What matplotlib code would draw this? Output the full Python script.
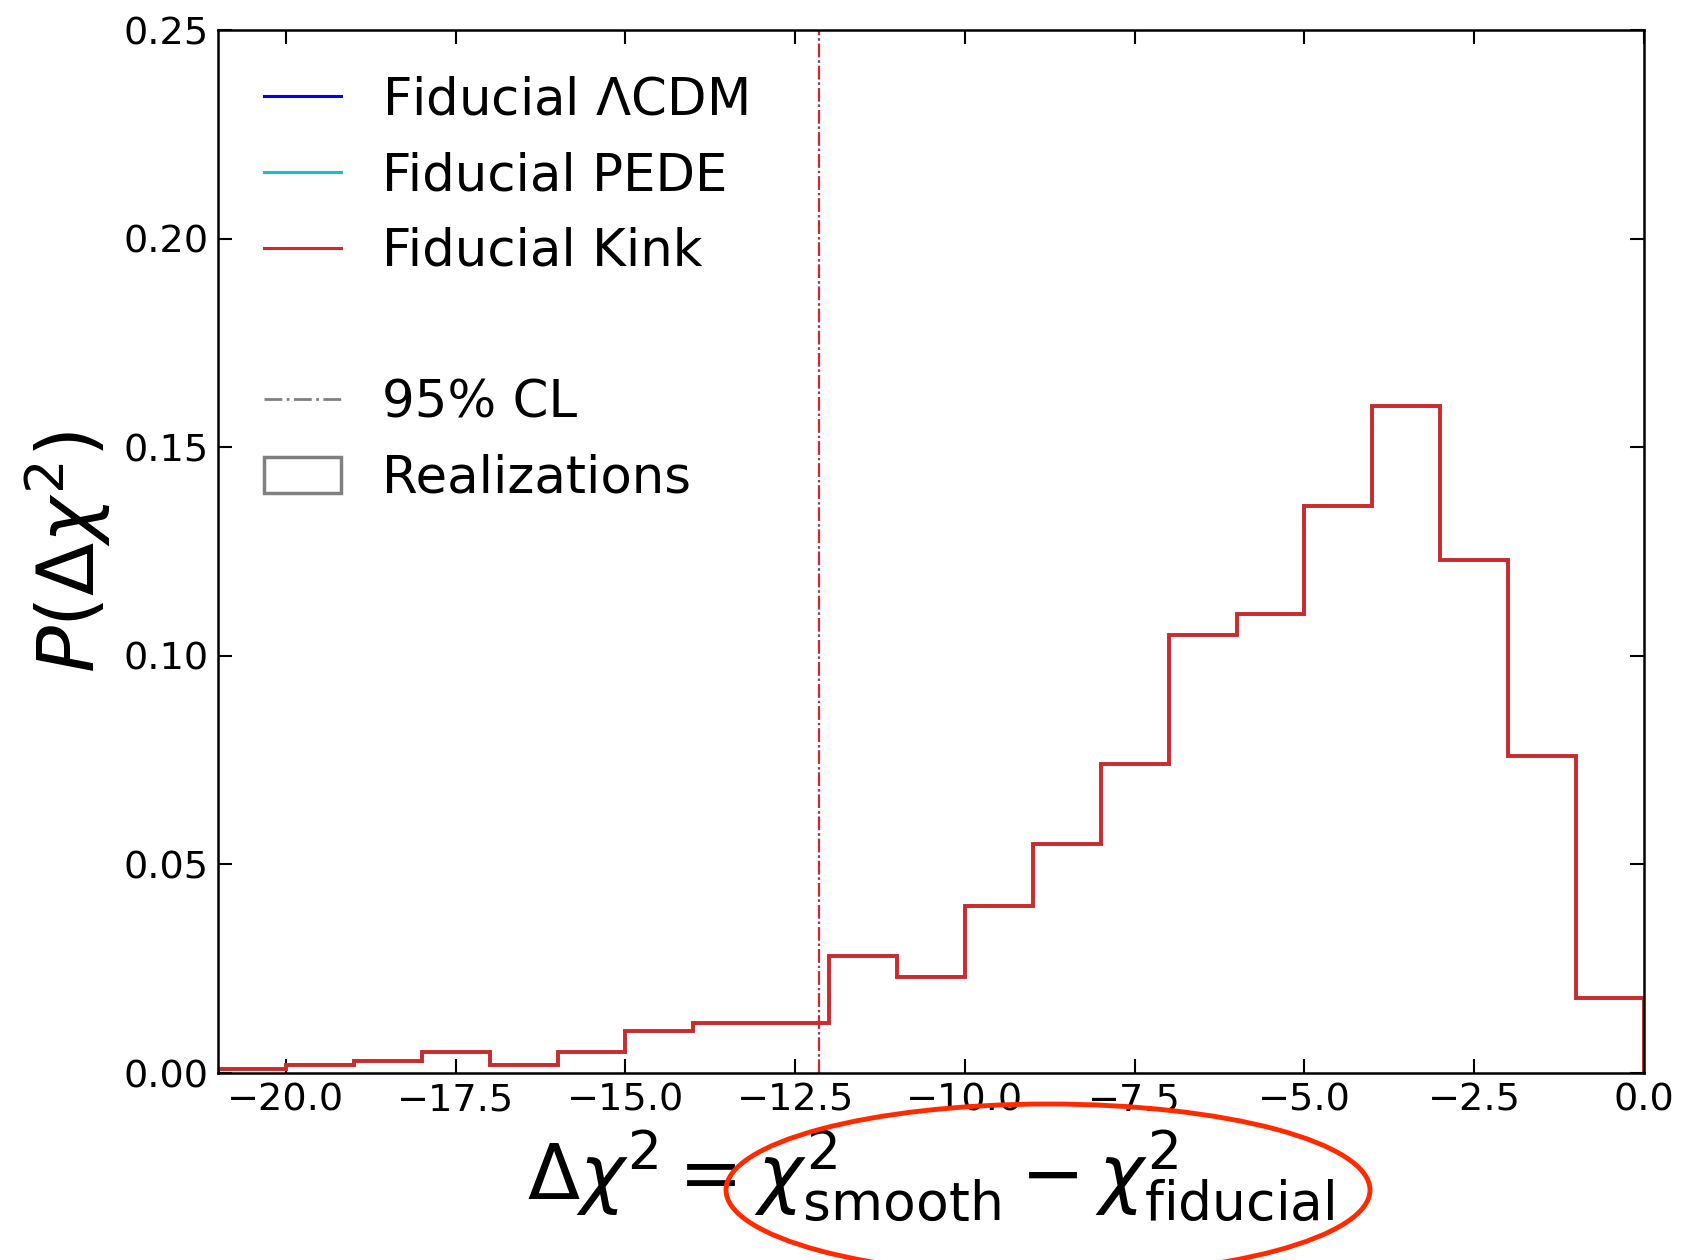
import matplotlib.pyplot as plt
import numpy as np
from matplotlib.lines import Line2D
from matplotlib.patches import Patch, Ellipse

# bin edges and probability per bin
edges = np.arange(-21, 1, 1)
prob = [0.001, 0.002, 0.003, 0.005, 0.002, 0.005, 0.010, 0.012, 0.012, 0.028,
        0.023, 0.040, 0.055, 0.074, 0.105, 0.110, 0.136, 0.160, 0.123, 0.076,
        0.018]
cl95 = -12.15
models = ['Fiducial $\\Lambda$CDM', 'Fiducial PEDE', 'Fiducial Kink']
colors = ['blue', 'tab:cyan', 'tab:red']

plt.rcParams['font.family'] = 'DejaVu Sans'
plt.rcParams['mathtext.fontset'] = 'dejavusans'

fig = plt.figure(figsize=(16.82, 12.6), dpi=100)
ax = fig.add_axes([0.1296, 0.1484, 0.8478, 0.8276])

centers = edges[:-1] + 0.5
for c in colors:
    ax.hist(centers, bins=edges, weights=prob, histtype='step', color=c, lw=2.7)
    ax.axvline(cl95, color=c, ls='-.', lw=1.5)

ax.set_xlim(-21, 0)
ax.set_ylim(0, 0.25)
ax.set_xticks(np.arange(-20, 0.1, 2.5))
ax.set_yticks(np.arange(0, 0.26, 0.05))
ax.tick_params(direction='in', top=True, right=True, length=10, width=1.5,
               labelsize=27.5, pad=7)
for s in ax.spines.values():
    s.set_linewidth(1.8)

ax.set_ylabel(r'$P(\Delta\chi^2)$', fontsize=56, labelpad=7.5)
ax.set_xlabel(r'$\Delta\chi^2 = \chi^2_{\rm smooth} - \chi^2_{\rm fiducial}$',
              fontsize=55, labelpad=7)

handles = [Line2D([], [], color=c, lw=2.2) for c in colors]
handles.append(Line2D([], [], color='none'))
handles.append(Line2D([], [], color='grey', ls='-.', lw=2))
handles.append(Patch(facecolor='white', edgecolor='grey', lw=2.5))
labels = models + [' ', '95% CL', 'Realizations']
ax.legend(handles, labels, loc='upper left', frameon=False, fontsize=37,
          handlelength=1.5, handletextpad=0.8, labelspacing=0.5,
          borderaxespad=0.5, bbox_to_anchor=(0.0, 1.001))

ell = Ellipse((1048 / 1682, 1 - 1190 / 1260), 644 / 1682, 172 / 1260,
              transform=fig.transFigure, fill=False, edgecolor='#ff2a00', lw=3.5)
fig.add_artist(ell)

fig.savefig('out.png', dpi=100)
